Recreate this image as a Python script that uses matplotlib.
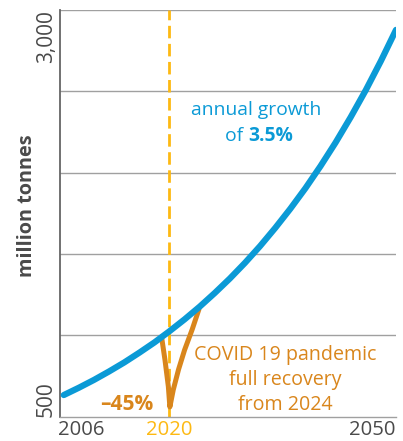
import matplotlib
matplotlib.use("Agg")
import matplotlib.pyplot as plt
import matplotlib.transforms as mtransforms

plt.rcParams['font.family'] = ['Open Sans', 'DejaVu Sans']

# Data
trend_years = [2006, 2008, 2010, 2012, 2014, 2016, 2018, 2020, 2022, 2024, 2026, 2028,
               2030, 2032, 2034, 2036, 2038, 2040, 2042, 2044, 2046, 2048, 2050]
trend_values = [633, 678, 726, 778, 833, 893, 956, 1025, 1098, 1176, 1260, 1349,
                1445, 1548, 1659, 1777, 1903, 2039, 2184, 2340, 2506, 2685, 2876]

covid_years = [2019.0, 2019.4, 2019.85, 2020.05, 2020.5, 2021.2, 2022.0, 2023.0, 2023.9]
covid_values = [975, 850, 685, 560, 665, 790, 910, 1035, 1160]

x_tick_labels = ["2006", "2020", "2050"]
y_tick_labels = ["500", "3,000"]
grid_levels = [1000, 1500, 2000, 2500, 3000]

BLUE = "#0B9AD6"
ORANGE = "#D9861C"
YELLOW = "#FDB913"
DARK = "#4a4a4a"
GRID = "#a0a0a0"

fig = plt.figure(figsize=(4.03, 4.41), dpi=100)
ax = fig.add_axes([60/403, 1 - 416.7/441, 336/403, 407/441])
ax.set_xlim(2005.5, 2050)
ax.set_ylim(500, 3000)

for lv in grid_levels:
    ax.axhline(lv, color=GRID, lw=1.0, zorder=1)

ax.axvline(2020, color=YELLOW, lw=2.0, dashes=(4.5, 2), zorder=2)

ax.plot(covid_years, covid_values, color=ORANGE, lw=3.6, solid_capstyle='round',
        solid_joinstyle='round', zorder=3)
ax.plot(trend_years, trend_values, color=BLUE, lw=4.5, solid_capstyle='round', zorder=4)

for s in ['top', 'right']:
    ax.spines[s].set_visible(False)
ax.spines['bottom'].set_color(GRID)
ax.spines['bottom'].set_linewidth(1.0)
ax.spines['left'].set_color("#666666")
ax.spines['left'].set_linewidth(1.3)
ax.set_xticks([])
ax.set_yticks([])

ty = mtransforms.blended_transform_factory(ax.transAxes, ax.transData)
tx = mtransforms.blended_transform_factory(ax.transData, ax.transAxes)

ax.text(-0.04, 3000, y_tick_labels[1], transform=ty, rotation=90, ha='center', va='top',
        fontsize=15, color=DARK)
ax.text(-0.04, 500, y_tick_labels[0], transform=ty, rotation=90, ha='center', va='bottom',
        fontsize=15, color=DARK)

xl_y = -0.044
ax.text(2005.2, xl_y, x_tick_labels[0], transform=tx, ha='left', va='baseline',
        fontsize=14.6, color=DARK)
ax.text(2020, xl_y, x_tick_labels[1], transform=tx, ha='center', va='baseline',
        fontsize=14.6, color=YELLOW)
ax.text(2050, xl_y, x_tick_labels[2], transform=tx, ha='right', va='baseline',
        fontsize=14.6, color=DARK)

fig.text(27/403, 1 - 206/441, "million tonnes", rotation=90, ha='center', va='center',
         fontsize=14.3, fontweight='bold', color=DARK)

ax.text(0.585, 0.754, "annual growth", transform=ax.transAxes, ha='center', va='center',
        fontsize=13.9, color=BLUE)
ax.text(0.56, 0.69, "of ", transform=ax.transAxes, ha='right', va='center',
        fontsize=13.9, color=BLUE)
ax.text(0.56, 0.69, "3.5%", transform=ax.transAxes, ha='left', va='center',
        fontsize=13.9, color=BLUE, fontweight='bold')

ax.text(0.67, 0.09, "COVID 19 pandemic\nfull recovery\nfrom 2024", transform=ax.transAxes,
        ha='center', va='center', fontsize=14.1, color=ORANGE, linespacing=1.35)

ax.text(0.198, 0.029, "–45%", transform=ax.transAxes, ha='center', va='center',
        fontsize=15, color=ORANGE, fontweight='bold')

fig.savefig("out.png", dpi=100)
